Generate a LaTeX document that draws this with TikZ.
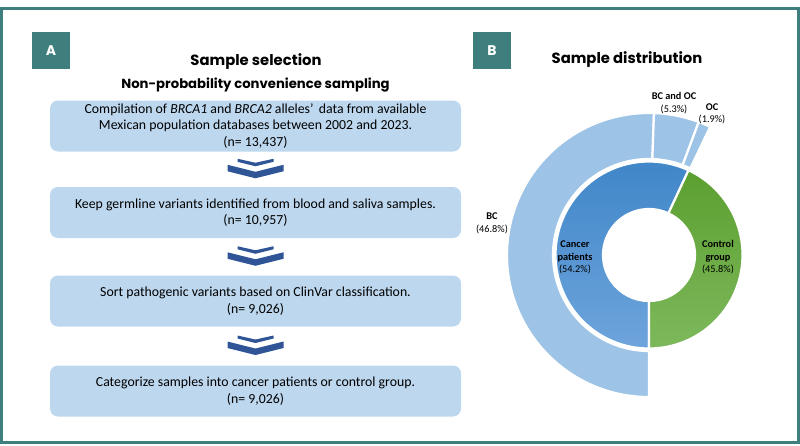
\documentclass[tikz,border=0pt]{standalone}
\usepackage{fontspec}
\setmainfont{Carlito}
\newfontfamily\popfont{Poppins}
\usetikzlibrary{calc}

\definecolor{tealfr}{HTML}{3E7E7D}
\definecolor{boxblue}{HTML}{BDD7EE}
\definecolor{chevblue}{HTML}{2F5597}
\definecolor{outerblue}{HTML}{9DC3E6}
\definecolor{cancertop}{HTML}{3F86C8}
\definecolor{cancerbot}{HTML}{6EA4DC}
\definecolor{ctrltop}{HTML}{5C9F30}
\definecolor{ctrlbot}{HTML}{7DB95C}

\begin{document}
\begin{tikzpicture}[
  x=1pt, y=1pt,
  step box/.style={fill=boxblue, rounded corners=8pt, minimum width=411pt, minimum height=51pt,
                   align=center, inner sep=0pt, font=\fontsize{13.8}{16.5}\selectfont},
  panel tag/.style={fill=tealfr, minimum width=38pt, minimum height=37pt, inner sep=0pt,
                    text=white, font=\popfont\bfseries\fontsize{14}{16}\selectfont},
  title/.style={font=\popfont\bfseries\fontsize{14.8}{17}\selectfont},
  ring/.style={draw=white, line width=2.2pt, line join=miter},
  slice label/.style={align=center, inner sep=0pt, font=\fontsize{10.3}{12.5}\selectfont},
  chevron/.pic={
    \fill[chevblue] (-28,4.5) -- (0,-2.5) -- (28,4.5) -- (28,-2) -- (0,-9) -- (-28,-2) -- cycle;
    \fill[chevblue] (-18,10.5) -- (0,6.5) -- (18,10.5) -- (18,7.5) -- (0,3) -- (-18,7.5) -- cycle;
  }
]
\useasboundingbox (0,0) rectangle (800,-445);
\draw[tealfr, line width=3pt] (1.5,-8) rectangle (798.5,-442.5);

% panel A: sample selection
\node[panel tag] (tagA) at (51,-50.5) {A};
\node[title] (selT) at (256,-62) {Sample selection};
\node[title, font=\popfont\bfseries\fontsize{13.2}{15}\selectfont] (selS) at (255.5,-85)
  {Non-probability convenience sampling};

\node[step box] (s1) at (255.5,-126) {Compilation of \textit{BRCA1} and \textit{BRCA2} alleles'\ \,data from available\\
  Mexican population databases between 2002 and 2023.\\(n= 13,437)};
\node[step box] (s2) at (255.5,-212.5) {Keep germline variants identified from blood and saliva samples.\\(n= 10,957)};
\node[step box] (s3) at (255.5,-301) {Sort pathogenic variants based on ClinVar classification.\\(n= 9,026)};
\node[step box] (s4) at (255.5,-391) {Categorize samples into cancer patients or control group.\\(n= 9,026)};

\foreach \a/\b in {s1/s2, s2/s3, s3/s4}
  \pic at ($(\a.south)!0.5!(\b.north)$) {chevron};

% panel B: sample distribution
\node[panel tag] (tagB) at (492,-50.5) {B};
\node[title] (distT) at (627,-60) {Sample distribution};

\begin{scope}[shift={(649,-255)}]
  % outer ring
  \foreach \s/\e in {88/270, 69.5/88, 64.5/69.5}
    \path[ring, fill=outerblue] (\s:96) arc (\s:\e:96) -- (\e:142) arc (\e:\s:142) -- cycle;
  % inner ring
  \path[ring, top color=cancertop, bottom color=cancerbot]
    (65:46) arc (65:270:46) -- (270:93.5) arc (270:65:93.5) -- cycle;
  \path[ring, top color=ctrltop, bottom color=ctrlbot]
    (-90:46) arc (-90:65:46) -- (65:93.5) arc (65:-90:93.5) -- cycle;
\end{scope}

\node[slice label] (lbc) at (492,-223.5) {\textbf{BC}\\(46.8\%)};
\node[slice label] (lboc) at (674,-103) {\textbf{BC and OC}\\(5.3\%)};
\node[slice label] (loc) at (712,-114) {\textbf{OC}\\(1.9\%)};
\node[slice label] (lcan) at (575,-257.5) {\textbf{Cancer}\\\textbf{patients}\\(54.2\%)};
\node[slice label] (lctl) at (718,-257.5) {\textbf{Control}\\\textbf{group}\\(45.8\%)};
\end{tikzpicture}
\end{document}
